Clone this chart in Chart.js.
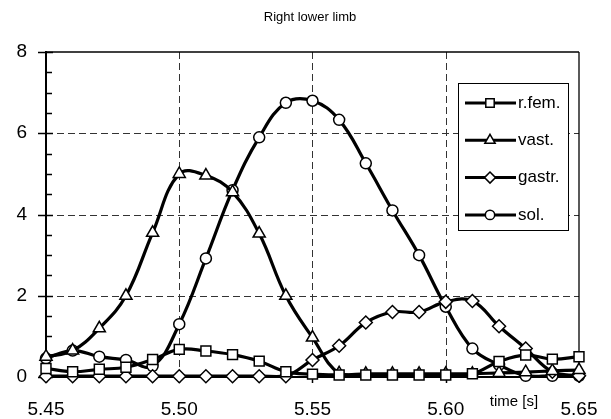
<!DOCTYPE html>
<html>
<head>
<meta charset="utf-8">
<script src="https://cdn.jsdelivr.net/npm/chart.js@4/dist/chart.umd.min.js"></script>
<style>
  html, body { margin: 0; padding: 0; background: #fff; }
  #wrap { width: 611px; height: 419px; }
</style>
</head>
<body>
<div id="wrap"><canvas id="chart" width="611" height="419"></canvas></div>
<script>
// values, one point every 0.01 s
const time = [5.45, 5.46, 5.47, 5.48, 5.49, 5.50, 5.51, 5.52, 5.53, 5.54, 5.55,
              5.56, 5.57, 5.58, 5.59, 5.60, 5.61, 5.62, 5.63, 5.64, 5.65];
const rFem = [0.21, 0.13, 0.19, 0.24, 0.43, 0.68, 0.64, 0.55, 0.39, 0.13, 0.07,
              0.05, 0.05, 0.05, 0.05, 0.05, 0.08, 0.38, 0.54, 0.44, 0.50];
const vast = [0.50, 0.65, 1.20, 2.00, 3.55, 5.00, 4.96, 4.55, 3.53, 2.00, 0.97,
              0.09, 0.08, 0.08, 0.08, 0.08, 0.08, 0.10, 0.12, 0.15, 0.17];
const gastr = [0.02, 0.02, 0.02, 0.02, 0.02, 0.02, 0.02, 0.02, 0.02, 0.02, 0.42,
               0.77, 1.34, 1.60, 1.60, 1.85, 1.87, 1.25, 0.70, 0.13, 0.03];
const sol = [0.46, 0.65, 0.50, 0.42, 0.27, 1.30, 2.92, 4.60, 5.90, 6.75, 6.80,
             6.33, 5.26, 4.10, 3.00, 1.73, 0.70, 0.30, 0.03, 0.03, 0.03];
const seriesNames = ["r.fem.", "vast.", "gastr.", "sol."];
const xTicks = [5.45, 5.50, 5.55, 5.60, 5.65];
const yTicks = [0, 2, 4, 6, 8];
const chartTitle = "Right lower limb";
const xAxisName = "time [s]";

const FONT = "'Liberation Sans', Arial, sans-serif";

function pts(vals) {
  return vals.map((v, i) => ({ x: time[i], y: v }));
}

function series(label, vals, style, radius) {
  return {
    label: label,
    data: pts(vals),
    borderColor: "#000",
    borderWidth: 3.2,
    tension: 0.4,
    pointStyle: style,
    pointRadius: radius,
    pointBackgroundColor: "#fff",
    pointBorderColor: "#000",
    pointBorderWidth: 1.5,
    clip: false,
  };
}

function seg(ctx, x1, y1, x2, y2) {
  ctx.beginPath();
  ctx.moveTo(x1, y1);
  ctx.lineTo(x2, y2);
  ctx.stroke();
}

const decor = {
  id: "decor",
  beforeDatasetsDraw(chart) {
    const { ctx, chartArea: a } = chart;
    const x = chart.scales.x, y = chart.scales.y;
    ctx.save();
    // dashed grid at inner major ticks
    ctx.strokeStyle = "#333";
    ctx.lineWidth = 1;
    ctx.setLineDash([7, 4]);
    yTicks.slice(1, -1).forEach((v) => {
      const py = Math.round(y.getPixelForValue(v)) + 0.5;
      seg(ctx, a.left, py, a.right, py);
    });
    xTicks.slice(1, -1).forEach((v) => {
      const px = Math.round(x.getPixelForValue(v)) + 0.5;
      seg(ctx, px, a.top, px, a.bottom);
    });
    ctx.setLineDash([]);
    ctx.strokeStyle = "#000";
    // top and right frame
    ctx.lineWidth = 1.3;
    seg(ctx, a.left, a.top, a.right, a.top);
    seg(ctx, a.right, a.top, a.right, a.bottom);
    // y minor ticks inside, major ticks crossing
    ctx.lineWidth = 1.5;
    for (let v = 0; v <= 8; v += 0.5) {
      const py = Math.round(y.getPixelForValue(v)) + 0.5;
      if (v % 2 === 0) seg(ctx, a.left - 8, py, a.left + 7, py);
      else seg(ctx, a.left, py, a.left + 6, py);
    }
    xTicks.forEach((v) => {
      const px = Math.round(x.getPixelForValue(v)) + 0.5;
      seg(ctx, px, a.bottom, px, a.bottom + 6);
    });
    // axes
    ctx.lineWidth = 2;
    seg(ctx, a.left, a.top - 1, a.left, a.bottom + 1);
    seg(ctx, a.left - 1, a.bottom, a.right, a.bottom);
    ctx.restore();
  },
  afterDatasetsDraw(chart) {
    const { ctx } = chart;
    ctx.save();
    // title
    ctx.fillStyle = "#000";
    ctx.font = "13px " + FONT;
    ctx.textAlign = "center";
    ctx.textBaseline = "middle";
    ctx.fillText(chartTitle, 310, 17);
    // axis name
    ctx.font = "15px " + FONT;
    ctx.fillText(xAxisName, 514, 402);
    // legend box
    const bx = 458, by = 83, bw = 110, bh = 147;
    ctx.fillStyle = "#fff";
    ctx.fillRect(bx, by, bw, bh);
    ctx.strokeStyle = "#000";
    ctx.lineWidth = 1;
    ctx.strokeRect(bx + 0.5, by + 0.5, bw, bh);
    ctx.font = "17px " + FONT;
    ctx.textAlign = "left";
    chart.data.datasets.forEach((ds, i) => {
      const ly = 103 + i * 37.3;
      ctx.strokeStyle = "#000";
      ctx.lineWidth = 3;
      seg(ctx, 465, ly, 516, ly);
      ctx.fillStyle = "#fff";
      ctx.lineWidth = 1.5;
      Chart.helpers.drawPoint(ctx, {
        pointStyle: ds.pointStyle,
        radius: ds.pointRadius * 0.85,
        borderWidth: 1.5,
        rotation: 0,
      }, 490, ly);
      ctx.fillStyle = "#000";
      ctx.fillText(ds.label, 518, ly);
    });
    ctx.restore();
  },
};

new Chart(document.getElementById("chart").getContext("2d"), {
  type: "line",
  data: {
    datasets: [
      series(seriesNames[0], rFem, "rect", 7),
      series(seriesNames[1], vast, "triangle", 7),
      series(seriesNames[2], gastr, "rectRot", 6.5),
      series(seriesNames[3], sol, "circle", 5.5),
    ],
  },
  options: {
    responsive: false,
    animation: false,
    devicePixelRatio: 1,
    layout: { padding: { left: 0, right: 32, top: 52, bottom: 0 } },
    plugins: { legend: { display: false }, tooltip: { enabled: false }, title: { display: false } },
    scales: {
      x: {
        type: "linear",
        min: 5.45,
        max: 5.65,
        afterBuildTicks: (s) => { s.ticks = xTicks.map((v) => ({ value: v })); },
        afterFit: (s) => { s.height = 42; s.paddingLeft = 0; s.paddingRight = 0; },
        grid: { display: false, drawTicks: false },
        border: { display: false },
        ticks: {
          padding: 21,
          color: "#000",
          font: { family: FONT, size: 19 },
          maxRotation: 0,
          callback: (v) => Number(v).toFixed(2),
        },
      },
      y: {
        min: 0,
        max: 8,
        afterBuildTicks: (s) => { s.ticks = yTicks.map((v) => ({ value: v })); },
        afterFit: (s) => { s.width = 46; s.paddingTop = 0; s.paddingBottom = 0; },
        grid: { display: false, drawTicks: false },
        border: { display: false },
        ticks: {
          padding: 19,
          color: "#000",
          font: { family: FONT, size: 19 },
          callback: (v) => String(v),
        },
      },
    },
  },
  plugins: [decor],
});
</script>
</body>
</html>
